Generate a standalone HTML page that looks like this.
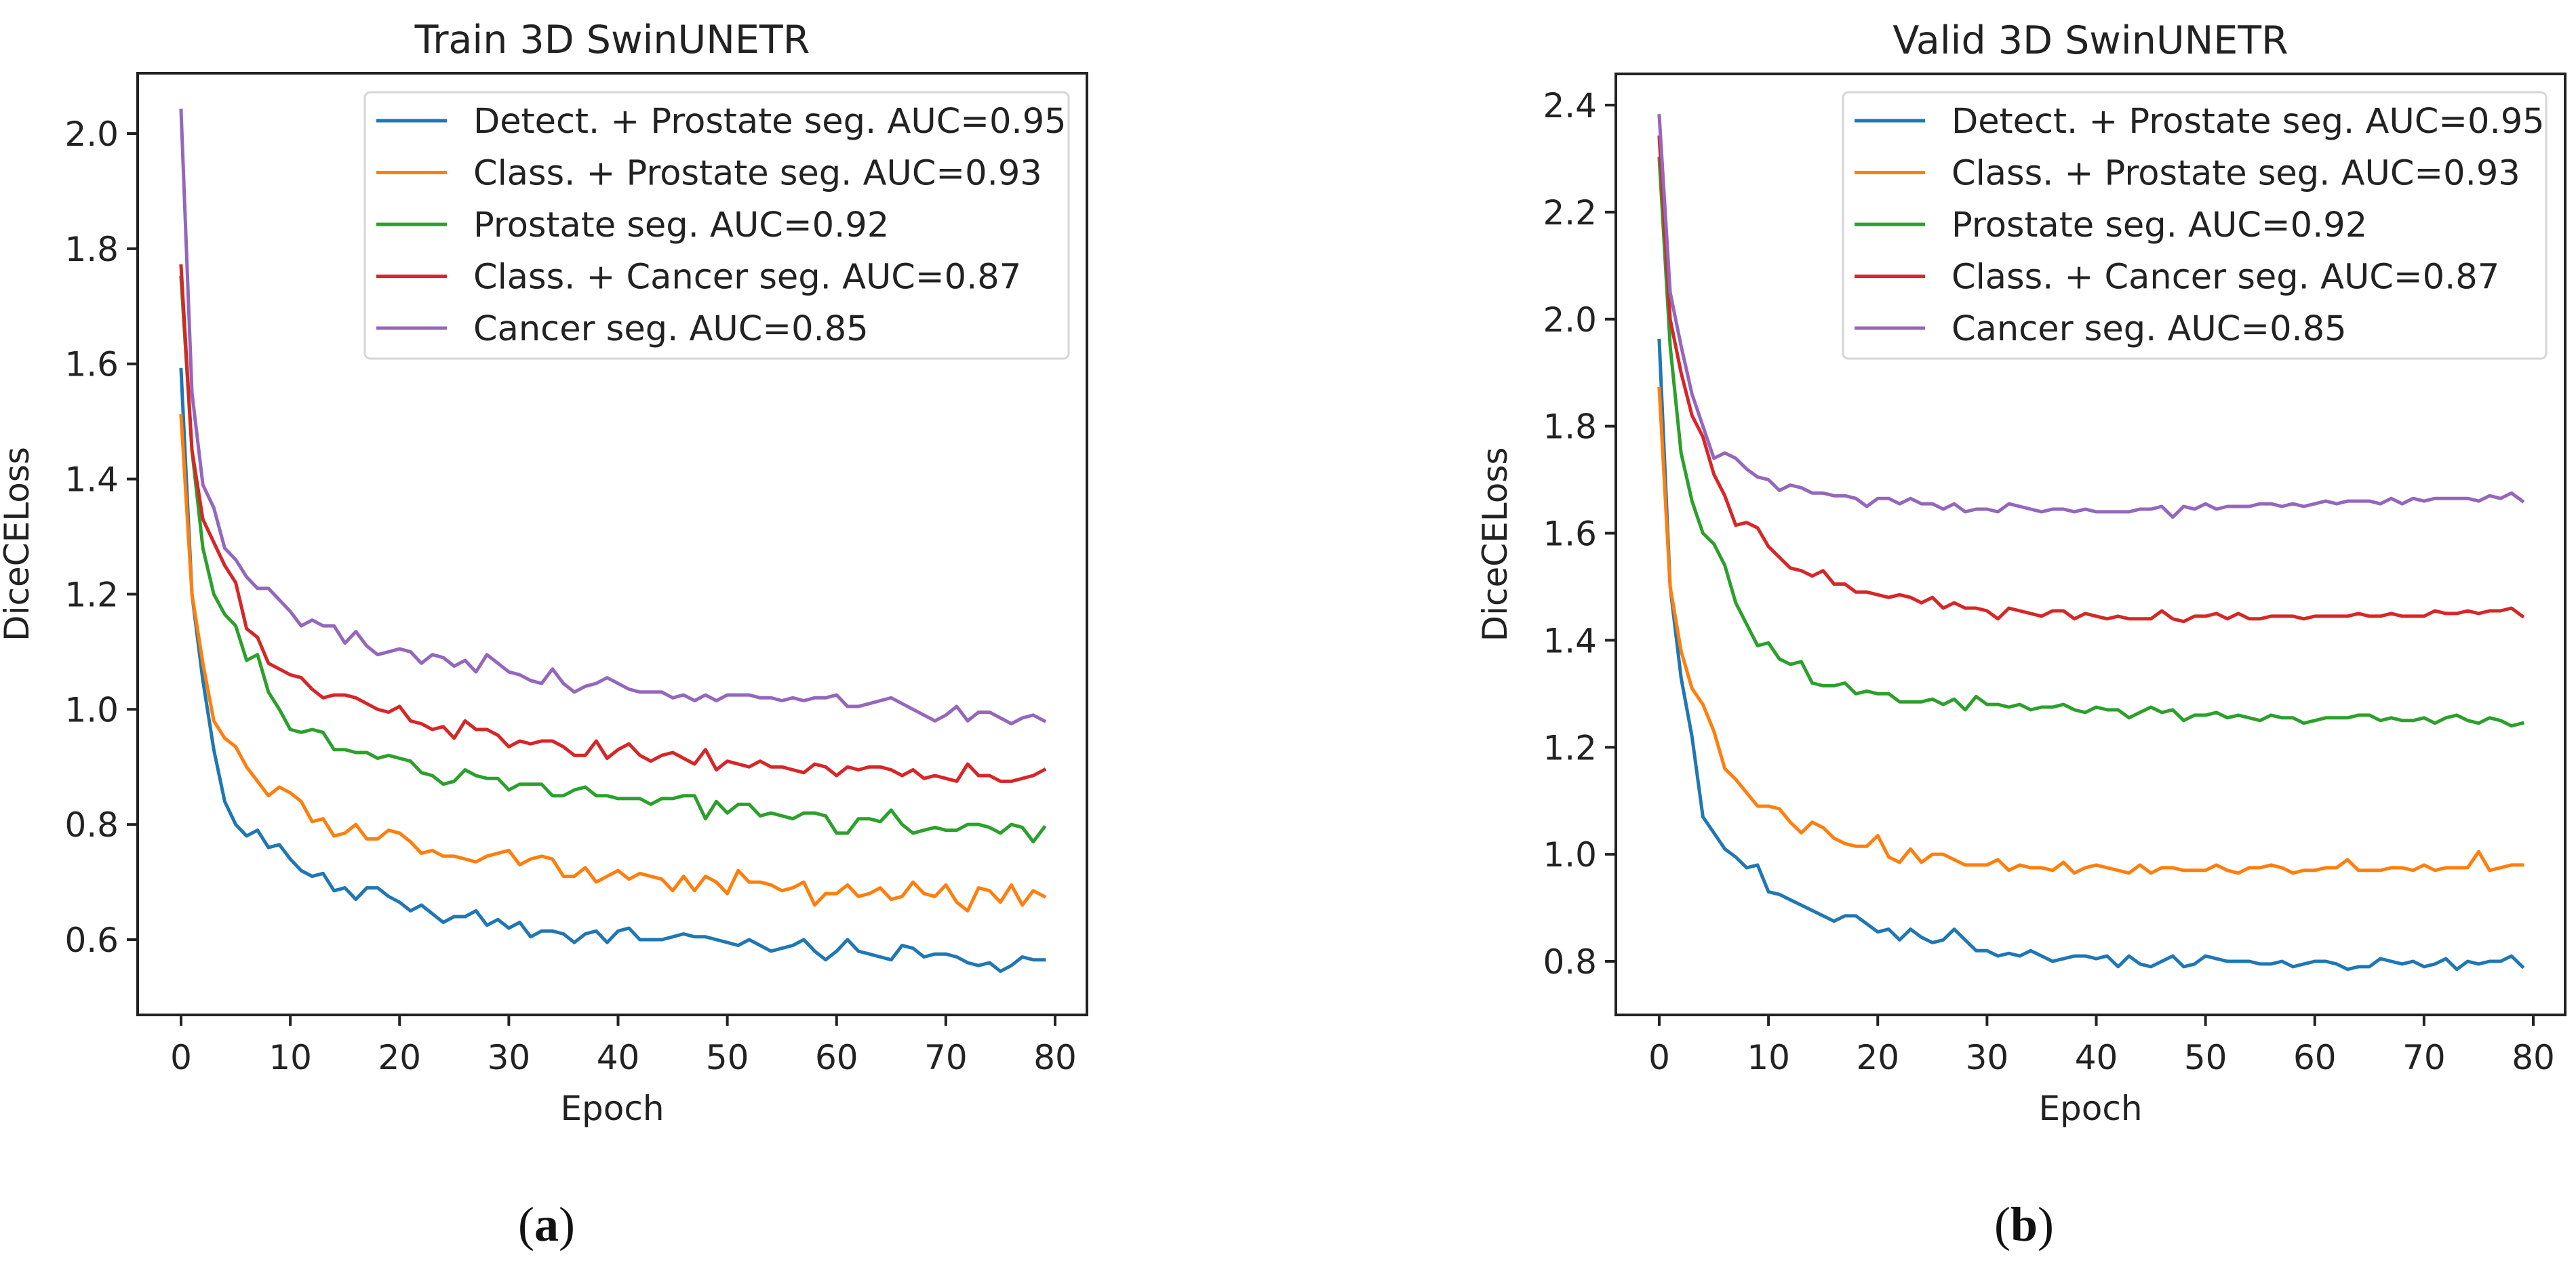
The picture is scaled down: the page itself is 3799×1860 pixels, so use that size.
<!DOCTYPE html>
<html><head><meta charset="utf-8"><style>
html,body{margin:0;padding:0;background:#fff;}
svg{display:block;}
text{font-family:"DejaVu Sans","Liberation Sans",sans-serif;fill:#222;}
</style></head><body>
<svg id="fig" width="3799" height="1860" viewBox="0 0 3799 1860" xmlns="http://www.w3.org/2000/svg"></svg>
<script>
const names = ["Detect. + Prostate seg. AUC=0.95","Class. + Prostate seg. AUC=0.93","Prostate seg. AUC=0.92","Class. + Cancer seg. AUC=0.87","Cancer seg. AUC=0.85"];
const colors = ["#1f77b4","#ff7f0e","#2ca02c","#d62728","#9467bd"];
const xTicks = [0,10,20,30,40,50,60,70,80];
const trainYTicks = [0.6,0.8,1.0,1.2,1.4,1.6,1.8,2.0];
const validYTicks = [0.8,1.0,1.2,1.4,1.6,1.8,2.0,2.2,2.4];
const trainBlue = [1.59,1.2,1.05,0.93,0.84,0.80,0.78,0.79,0.76,0.765,0.74,0.72,0.71,0.715,0.685,0.69,0.67,0.69,0.69,0.675,0.665,0.65,0.66,0.645,0.63,0.64,0.64,0.65,0.625,0.635,0.62,0.63,0.605,0.615,0.615,0.61,0.595,0.61,0.615,0.595,0.615,0.62,0.60,0.60,0.60,0.605,0.61,0.605,0.605,0.60,0.595,0.59,0.60,0.59,0.58,0.585,0.59,0.60,0.58,0.565,0.58,0.60,0.58,0.575,0.57,0.565,0.59,0.585,0.57,0.575,0.575,0.57,0.56,0.555,0.56,0.545,0.555,0.57,0.565,0.565];
const trainOrange = [1.51,1.2,1.08,0.98,0.95,0.935,0.90,0.875,0.85,0.865,0.855,0.84,0.805,0.81,0.78,0.785,0.80,0.775,0.775,0.79,0.785,0.77,0.75,0.755,0.745,0.745,0.74,0.735,0.745,0.75,0.755,0.73,0.74,0.745,0.74,0.71,0.71,0.725,0.70,0.71,0.72,0.705,0.715,0.71,0.705,0.685,0.71,0.685,0.71,0.70,0.68,0.72,0.70,0.70,0.695,0.685,0.69,0.70,0.66,0.68,0.68,0.695,0.675,0.68,0.69,0.67,0.675,0.70,0.68,0.675,0.695,0.665,0.65,0.69,0.685,0.665,0.695,0.66,0.685,0.675];
const trainGreen = [1.75,1.45,1.28,1.2,1.165,1.145,1.085,1.095,1.03,1.0,0.965,0.96,0.965,0.96,0.93,0.93,0.925,0.925,0.915,0.92,0.915,0.91,0.89,0.885,0.87,0.875,0.895,0.885,0.88,0.88,0.86,0.87,0.87,0.87,0.85,0.85,0.86,0.865,0.85,0.85,0.845,0.845,0.845,0.835,0.845,0.845,0.85,0.85,0.81,0.84,0.82,0.835,0.835,0.815,0.82,0.815,0.81,0.82,0.82,0.815,0.785,0.785,0.81,0.81,0.805,0.825,0.80,0.785,0.79,0.795,0.79,0.79,0.80,0.80,0.795,0.785,0.80,0.795,0.77,0.795];
const trainRed = [1.77,1.45,1.33,1.29,1.25,1.22,1.14,1.125,1.08,1.07,1.06,1.055,1.035,1.02,1.025,1.025,1.02,1.01,1.0,0.995,1.005,0.98,0.975,0.965,0.97,0.95,0.98,0.965,0.965,0.955,0.935,0.945,0.94,0.945,0.945,0.935,0.92,0.92,0.945,0.915,0.93,0.94,0.92,0.91,0.92,0.925,0.915,0.905,0.93,0.895,0.91,0.905,0.9,0.91,0.9,0.9,0.895,0.89,0.905,0.9,0.885,0.9,0.895,0.9,0.9,0.895,0.885,0.895,0.88,0.885,0.88,0.875,0.905,0.885,0.885,0.875,0.875,0.88,0.885,0.895];
const trainPurple = [2.04,1.55,1.39,1.35,1.28,1.26,1.23,1.21,1.21,1.19,1.17,1.145,1.155,1.145,1.145,1.115,1.135,1.11,1.095,1.1,1.105,1.1,1.08,1.095,1.09,1.075,1.085,1.065,1.095,1.08,1.065,1.06,1.05,1.045,1.07,1.045,1.03,1.04,1.045,1.055,1.045,1.035,1.03,1.03,1.03,1.02,1.025,1.015,1.025,1.015,1.025,1.025,1.025,1.02,1.02,1.015,1.02,1.015,1.02,1.02,1.025,1.005,1.005,1.01,1.015,1.02,1.01,1.0,0.99,0.98,0.99,1.005,0.98,0.995,0.995,0.985,0.975,0.985,0.99,0.98];
const validBlue = [1.96,1.5,1.33,1.22,1.07,1.04,1.01,0.995,0.975,0.98,0.93,0.925,0.915,0.905,0.895,0.885,0.875,0.885,0.885,0.87,0.855,0.86,0.84,0.86,0.845,0.835,0.84,0.86,0.84,0.82,0.82,0.81,0.815,0.81,0.82,0.81,0.80,0.805,0.81,0.81,0.805,0.81,0.79,0.81,0.795,0.79,0.80,0.81,0.79,0.795,0.81,0.805,0.80,0.80,0.80,0.795,0.795,0.80,0.79,0.795,0.80,0.80,0.795,0.785,0.79,0.79,0.805,0.80,0.795,0.80,0.79,0.795,0.805,0.785,0.80,0.795,0.80,0.80,0.81,0.79];
const validOrange = [1.87,1.5,1.38,1.31,1.28,1.23,1.16,1.14,1.115,1.09,1.09,1.085,1.06,1.04,1.06,1.05,1.03,1.02,1.015,1.015,1.035,0.995,0.985,1.01,0.985,1.0,1.0,0.99,0.98,0.98,0.98,0.99,0.97,0.98,0.975,0.975,0.97,0.985,0.965,0.975,0.98,0.975,0.97,0.965,0.98,0.965,0.975,0.975,0.97,0.97,0.97,0.98,0.97,0.965,0.975,0.975,0.98,0.975,0.965,0.97,0.97,0.975,0.975,0.99,0.97,0.97,0.97,0.975,0.975,0.97,0.98,0.97,0.975,0.975,0.975,1.005,0.97,0.975,0.98,0.98];
const validGreen = [2.3,1.95,1.75,1.66,1.6,1.58,1.54,1.47,1.43,1.39,1.395,1.365,1.355,1.36,1.32,1.315,1.315,1.32,1.30,1.305,1.3,1.3,1.285,1.285,1.285,1.29,1.28,1.29,1.27,1.295,1.28,1.28,1.275,1.28,1.27,1.275,1.275,1.28,1.27,1.265,1.275,1.27,1.27,1.255,1.265,1.275,1.265,1.27,1.25,1.26,1.26,1.265,1.255,1.26,1.255,1.25,1.26,1.255,1.255,1.245,1.25,1.255,1.255,1.255,1.26,1.26,1.25,1.255,1.25,1.25,1.255,1.245,1.255,1.26,1.25,1.245,1.255,1.25,1.24,1.245];
const validRed = [2.34,2.0,1.9,1.82,1.78,1.71,1.67,1.615,1.62,1.61,1.575,1.555,1.535,1.53,1.52,1.53,1.505,1.505,1.49,1.49,1.485,1.48,1.485,1.48,1.47,1.48,1.46,1.47,1.46,1.46,1.455,1.44,1.46,1.455,1.45,1.445,1.455,1.455,1.44,1.45,1.445,1.44,1.445,1.44,1.44,1.44,1.455,1.44,1.435,1.445,1.445,1.45,1.44,1.45,1.44,1.44,1.445,1.445,1.445,1.44,1.445,1.445,1.445,1.445,1.45,1.445,1.445,1.45,1.445,1.445,1.445,1.455,1.45,1.45,1.455,1.45,1.455,1.455,1.46,1.445];
const validPurple = [2.38,2.05,1.95,1.86,1.8,1.74,1.75,1.74,1.72,1.705,1.70,1.68,1.69,1.685,1.675,1.675,1.67,1.67,1.665,1.65,1.665,1.665,1.655,1.665,1.655,1.655,1.645,1.655,1.64,1.645,1.645,1.64,1.655,1.65,1.645,1.64,1.645,1.645,1.64,1.645,1.64,1.64,1.64,1.64,1.645,1.645,1.65,1.63,1.65,1.645,1.655,1.645,1.65,1.65,1.65,1.655,1.655,1.65,1.655,1.65,1.655,1.66,1.655,1.66,1.66,1.66,1.655,1.665,1.655,1.665,1.66,1.665,1.665,1.665,1.665,1.66,1.67,1.665,1.675,1.66];

const NS = "http://www.w3.org/2000/svg";
const fig = document.getElementById('fig');
function mk(tag, attrs, parent){ const e=document.createElementNS(NS,tag); for(const k in attrs) e.setAttribute(k,attrs[k]); (parent||fig).appendChild(e); return e; }

function drawPanel(cfg){
  const g = mk('g',{});
  
  
  const xs = v => cfg.x0 + (v - 0) * (cfg.x80 - cfg.x0) / 80;
  const ys = v => cfg.yA + (v - cfg.vA) * (cfg.yB - cfg.yA) / (cfg.vB - cfg.vA);
  cfg.series.forEach((s, si) => {
    const d = s.map((v,i)=> (i?'L':'M') + xs(i).toFixed(1) + ' ' + ys(v).toFixed(1)).join(' ');
    const p = mk('path',{d:d, fill:'none', stroke:colors[si], 'stroke-width':5, 'stroke-linejoin':'round', 'stroke-linecap':'square'}, g);
    
    
  });
  const fr = mk('rect',{x:cfg.L, y:cfg.T, width:cfg.R-cfg.L, height:cfg.B-cfg.T, fill:'none', stroke:'#222', 'stroke-width':4}, g);
  
  
  xTicks.forEach(t=>{
    const x = xs(t);
    mk('line',{x1:x,y1:cfg.B,x2:x,y2:cfg.B+16,stroke:'#222','stroke-width':4},g);
    const tx = mk('text',{x:x,y:cfg.B+80,'font-size':50,'text-anchor':'middle'},g);
    tx.textContent = t;
    
    
  });
  cfg.yTicks.forEach(t=>{
    const y = ys(t);
    mk('line',{x1:cfg.L-16,y1:y,x2:cfg.L,y2:y,stroke:'#222','stroke-width':4},g);
    const tx = mk('text',{x:cfg.L-28,y:y+18,'font-size':50,'text-anchor':'end'},g);
    tx.textContent = t.toFixed(1);
    
    
  });
  const ti = mk('text',{x:(cfg.L+cfg.R)/2,y:cfg.T-30,'font-size':57,'text-anchor':'middle'},g);
  ti.textContent = cfg.title;
  
  
  const xl = mk('text',{x:(cfg.L+cfg.R)/2,y:cfg.B+155,'font-size':50,'text-anchor':'middle'},g);
  xl.textContent = 'Epoch';
  
  
  const yl = mk('text',{x:0,y:0,'font-size':50,'text-anchor':'middle',transform:`translate(${cfg.yLabX},${(cfg.T+cfg.B)/2}) rotate(-90)`},g);
  yl.textContent = 'DiceCELoss';
  
  
  const lg = mk('g',{},g);
  
  
  mk('rect',{x:cfg.legX, y:136, width:cfg.legW, height:393, rx:8, fill:'#fff', 'fill-opacity':0.8, stroke:'#d6d6d6','stroke-width':3},lg);
  names.forEach((n,i)=>{
    const y = 178 + i*76.5;
    const e = mk('g',{},lg);
    
    
    mk('line',{x1:cfg.legX+17,y1:y,x2:cfg.legX+121,y2:y,stroke:colors[i],'stroke-width':5},e);
    const tx = mk('text',{x:cfg.legX+160,y:y+18,'font-size':51},e);
    tx.textContent = n;
  });
}

drawPanel({id:'train', title:'Train 3D SwinUNETR', L:203, R:1603, T:108, B:1497, x0:267, x80:1556,
  yA:197, vA:2.0, yB:1386, vB:0.6, yTicks:trainYTicks, yLabX:42, legX:538, legW:1038,
  series:[trainBlue,trainOrange,trainGreen,trainRed,trainPurple]});
drawPanel({id:'valid', title:'Valid 3D SwinUNETR', L:2383, R:3783, T:109, B:1497, x0:2447, x80:3736,
  yA:155, vA:2.4, yB:1418, vB:0.8, yTicks:validYTicks, yLabX:2222, legX:2718, legW:1037,
  series:[validBlue,validOrange,validGreen,validRed,validPurple]});

const ca = mk('text',{x:806,y:1830,'font-size':72,'text-anchor':'middle',style:'font-family:"Liberation Serif",serif;fill:#111'});
ca.innerHTML = '(<tspan font-weight="bold">a</tspan>)';


const cb = mk('text',{x:2985,y:1830,'font-size':72,'text-anchor':'middle',style:'font-family:"Liberation Serif",serif;fill:#111'});
cb.innerHTML = '(<tspan font-weight="bold">b</tspan>)';


</script>
</body></html>
